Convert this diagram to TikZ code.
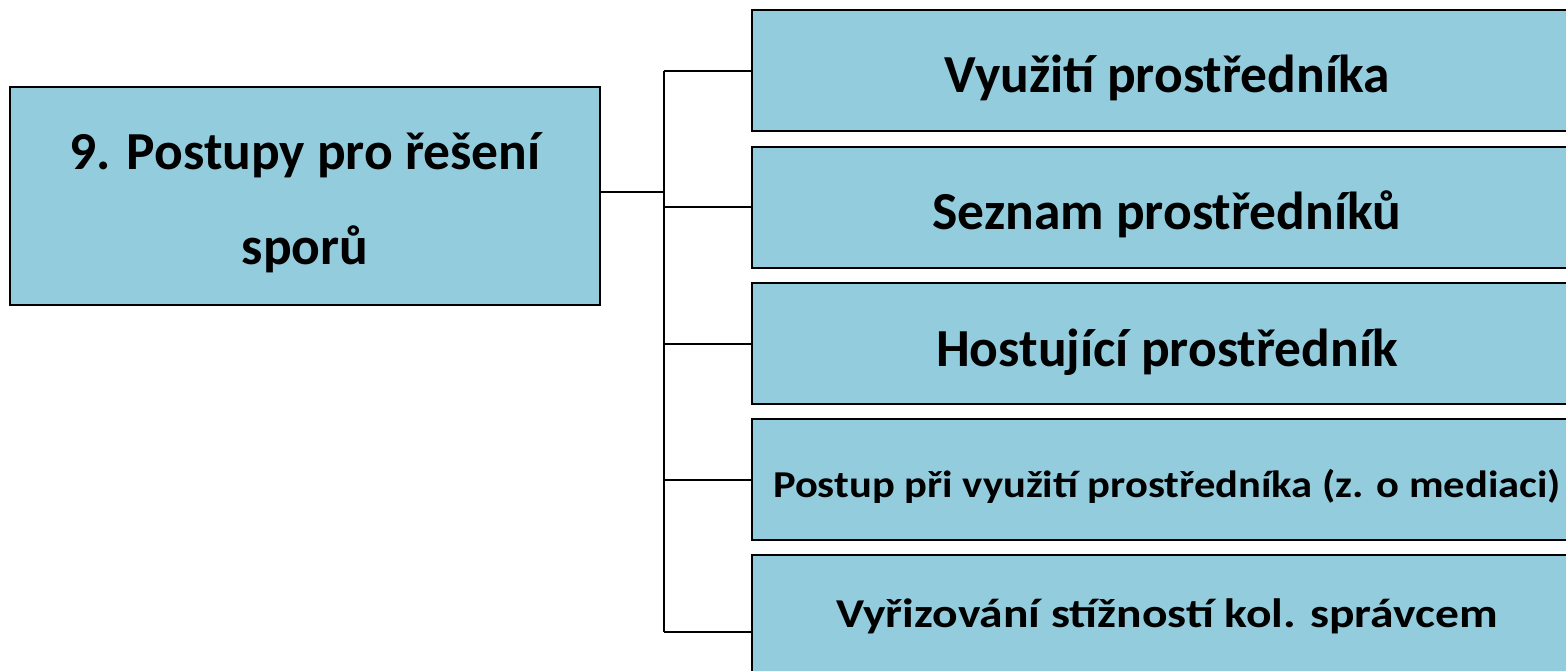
\documentclass[tikz,border=0pt]{standalone}
\usepackage{fontspec}
\setmainfont{Carlito}
\definecolor{boxfill}{HTML}{93CCDD}
\tikzset{
  box/.style={draw=black, line width=2pt, fill=boxfill, inner sep=0pt},
  sub/.style={box, anchor=west, minimum width=832pt, minimum height=121pt},
  label/.style={anchor=base, inner sep=0pt, font=\bfseries\fontsize{53.5}{60}\selectfont},
  link/.style={draw=black, line width=2pt}
}
\begin{document}
\begin{tikzpicture}[x=1pt,y=-1pt]
\useasboundingbox[fill=white] (0,0) rectangle (1566,671);
\node[box, minimum width=590pt, minimum height=218pt] (main) at (305,196) {};
\node[sub] (b1) at (751,71) {};
\node[sub] (b2) at (751,207.5) {};
\node[sub] (b3) at (751,343.5) {};
\node[sub] (b4) at (751,479.5) {};
\node[sub, minimum height=154pt] (b5) at (751,632) {};
\node[label] (m1) at (305,170) {9. Postupy pro řešení};
\node[label] (m2) at (305,264) {sporů};
\node[label] (t1) at (1167,93) {Využití prostředníka};
\node[label] (t2) at (1167,229.5) {Seznam prostředníků};
\node[label] (t3) at (1167,366) {Hostující prostředník};
\node[label, font=\bfseries\fontsize{38}{44}\selectfont] (t4) at (1167,497.5) {\scalebox{1.12}[1]{Postup při využití prostředníka (z. o mediaci)}};
\node[label, font=\bfseries\fontsize{41}{47}\selectfont] (t5) at (1167,627) {\scalebox{1.16}[1]{Vyřizování stížností kol. správcem}};
\coordinate (j) at (664,192);
\draw[link] (main.east |- j) -- (j);
\draw[link] (j |- b1.west) -- (j |- b5.west);
\foreach \b in {b1,b2,b3,b4,b5} \draw[link] (j |- \b.west) -- (\b.west);
\end{tikzpicture}
\end{document}
